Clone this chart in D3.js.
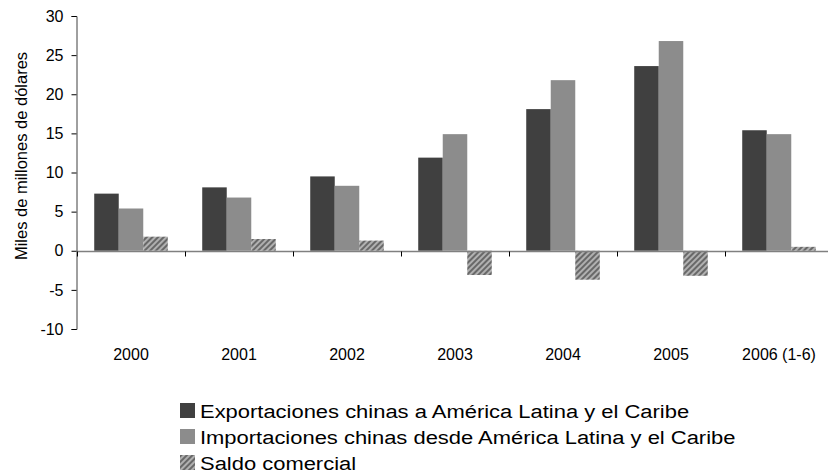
<!DOCTYPE html>
<html>
<head>
<meta charset="utf-8">
<script src="https://cdn.jsdelivr.net/npm/d3@7"></script>
<style>
  html, body { margin: 0; padding: 0; background: #fff; }
  svg { display: block; font-family: "Liberation Sans", Arial, sans-serif; }
</style>
</head>
<body>
<svg id="chart" width="828" height="473"></svg>
<script>
// Comercio de China con América Latina y el Caribe (miles de millones de dólares)
const categories = ["2000", "2001", "2002", "2003", "2004", "2005", "2006 (1-6)"];
const exportaciones = [7.3, 8.1, 9.5, 11.9, 18.1, 23.6, 15.4];
const importaciones = [5.4, 6.8, 8.3, 14.9, 21.8, 26.8, 14.9];
const saldo = [1.8, 1.5, 1.3, -3.1, -3.7, -3.2, 0.5];
const yTicks = [-10, -5, 0, 5, 10, 15, 20, 25, 30];

const seriesNames = [
  "Exportaciones chinas a América Latina y el Caribe",
  "Importaciones chinas desde América Latina y el Caribe",
  "Saldo comercial"
];

const svg = d3.select("#chart");

// Diagonal hatch used by the trade balance series
const defs = svg.append("defs");
const pat = defs.append("pattern")
  .attr("id", "hatch")
  .attr("patternUnits", "userSpaceOnUse")
  .attr("width", 4)
  .attr("height", 4)
  .attr("patternTransform", "rotate(45)");
pat.append("rect").attr("width", 4).attr("height", 4).attr("fill", "#b0b0b0");
pat.append("rect").attr("width", 2).attr("height", 4).attr("fill", "#686868");

const fills = ["#404040", "#8c8c8c", "url(#hatch)"];

const x0 = d3.scaleBand().domain(categories).range([77, 833]).padding(0);
const y = d3.scaleLinear().domain([-10, 30]).range([329, 16]);

const barW = x0.bandwidth() * 0.227;
const x1 = d3.scaleBand().domain([0, 1, 2])
  .range([(x0.bandwidth() - 3 * barW) / 2, (x0.bandwidth() + 3 * barW) / 2])
  .padding(0);

const rows = categories.map((c, i) => ({
  cat: c,
  vals: [exportaciones[i], importaciones[i], saldo[i]]
}));

// Bars
const groups = svg.append("g").selectAll("g")
  .data(rows).join("g")
  .attr("transform", d => `translate(${x0(d.cat)},0)`);

groups.selectAll("rect")
  .data(d => d.vals.map((v, k) => ({ k, v })))
  .join("rect")
  .attr("x", d => x1(d.k))
  .attr("width", x1.bandwidth())
  .attr("y", d => y(Math.max(0, d.v)))
  .attr("height", d => Math.abs(y(d.v) - y(0)))
  .attr("fill", d => fills[d.k]);

// Y axis
const yAxis = svg.append("g")
  .attr("transform", "translate(76.5,0)")
  .call(d3.axisLeft(y).tickValues(yTicks).tickSize(5).tickPadding(8).tickFormat(d => String(d)));
yAxis.select(".domain").attr("stroke", "#404040");
yAxis.selectAll(".tick line").attr("stroke", "#000");
yAxis.selectAll("text")
  .attr("font-size", 16)
  .attr("fill", "#000")
  .attr("font-family", "Liberation Sans, Arial, sans-serif");

// Zero line with category separators
const xAxis = svg.append("g")
  .attr("transform", `translate(0,${Math.round(y(0)) + 0.5})`);
xAxis.append("line")
  .attr("x1", 77).attr("x2", 833)
  .attr("stroke", "#808080").attr("stroke-width", 1.5);
const seps = categories.map(c => x0(c));
xAxis.selectAll("line.sep")
  .data(seps).join("line")
  .attr("class", "sep")
  .attr("x1", d => Math.round(d) + 0.5).attr("x2", d => Math.round(d) + 0.5)
  .attr("y1", 0).attr("y2", 5)
  .attr("stroke", "#000");

// Category labels
svg.append("g").selectAll("text")
  .data(categories).join("text")
  .attr("x", d => x0(d) + x0.bandwidth() / 2)
  .attr("y", 360)
  .attr("text-anchor", "middle")
  .attr("font-size", 16)
  .text(d => d);

// Y axis title
svg.append("text")
  .attr("transform", "translate(27,156) rotate(-90)")
  .attr("text-anchor", "middle")
  .attr("font-size", 16.5)
  .text("Miles de millones de dólares");

// Legend
const legend = svg.append("g").attr("transform", "translate(180,403)");
const li = legend.selectAll("g").data(seriesNames).join("g")
  .attr("transform", (d, i) => `translate(0,${i * 26})`);
li.append("rect")
  .attr("width", 15).attr("height", 15)
  .attr("fill", (d, i) => fills[i]);
li.append("text")
  .attr("transform", "translate(20,14.5) scale(1.156,1)")
  .attr("font-size", 19)
  .text(d => d);
</script>
</body>
</html>
